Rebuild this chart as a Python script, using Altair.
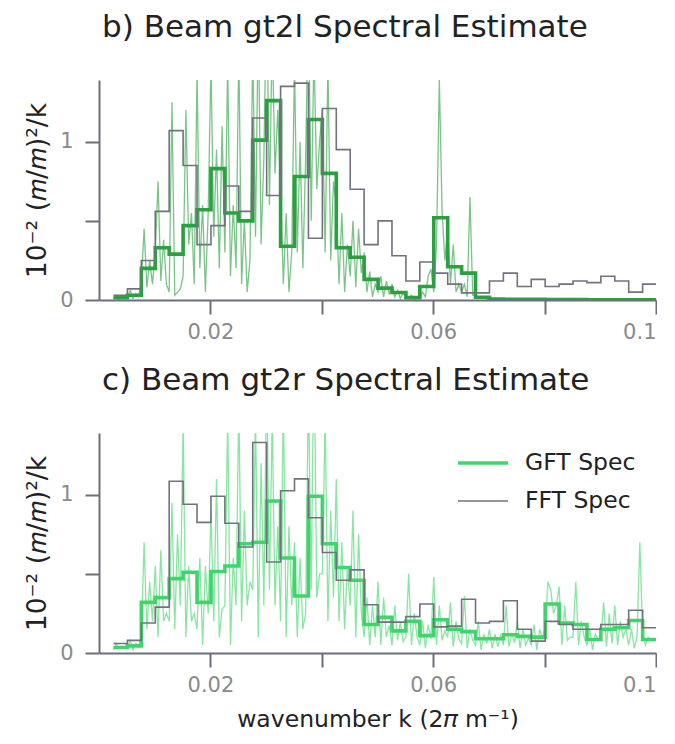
import altair as alt
import pandas as pd

# ---------------- data ----------------
# bin edges (wavenumber, 2pi m^-1) for the binned spectra
bin_edges = [0.0026, 0.0051, 0.0076, 0.0101, 0.0126, 0.0151, 0.0176, 0.0201, 0.0226, 0.0251,
             0.0276, 0.0301, 0.0326, 0.0351, 0.0376, 0.0401, 0.0426, 0.0451, 0.0476, 0.0501,
             0.0526, 0.0551, 0.0576, 0.0601, 0.0626, 0.0651, 0.0676, 0.0701, 0.0726, 0.0751,
             0.0776, 0.0801, 0.0826, 0.0851, 0.0876, 0.0901, 0.0926, 0.0951, 0.0976, 0.1001]

# raw wavenumber grid of the unbinned GFT spectrum
k_raw = [round(0.0026 + 0.0005 * i, 4) for i in range(195)]

# panel b (gt2l)
b_gft_bins = [0.015, 0.03, 0.20, 0.33, 0.29, 0.47, 0.57, 0.83, 0.55, 0.50,
              1.01, 1.26, 0.34, 0.78, 1.14, 0.80, 0.33, 0.27, 0.13, 0.075,
              0.047, 0.015, 0.085, 0.52, 0.21, 0.17, 0.017, 0.006, 0.005, 0.004,
              0.004, 0.003, 0.003, 0.003, 0.002, 0.002, 0.002, 0.002, 0.002]
b_fft_bins = [0.03, 0.07, 0.25, 0.56, 1.07, 0.85, 0.35, 0.47, 0.72, 0.56,
              1.15, 0.66, 1.35, 1.37, 0.39, 1.21, 0.95, 0.70, 0.35, 0.50,
              0.28, 0.12, 0.24, 0.17, 0.10, 0.045, 0.045, 0.12, 0.17, 0.085,
              0.13, 0.085, 0.10, 0.12, 0.11, 0.15, 0.12, 0.05, 0.10]
b_gft_raw = [0.01, 0.02, 0.005, 0.03, 0.01,
             0.02, 0.06, 0.01, 0.04, 0.02,
             0.12, 0.45, 0.08, 0.25, 0.10,
             0.30, 0.75, 0.12, 0.38, 0.10,
             0.05, 1.25, 0.03, 0.05, 0.07,
             0.15, 1.20, 0.35, 0.55, 0.10,
             1.45, 0.20, 0.60, 0.05, 0.55,
             1.50, 0.40, 0.95, 0.20, 1.10,
             0.30, 1.50, 0.15, 0.60, 0.20,
             1.60, 0.10, 0.50, 0.05, 0.25,
             1.60, 0.40, 1.80, 0.35, 0.90,
             2.00, 0.60, 1.70, 0.80, 1.20,
             0.70, 0.10, 0.55, 0.05, 0.30,
             1.50, 0.30, 1.00, 0.20, 0.90,
             1.90, 0.50, 1.60, 0.70, 1.00,
             1.20, 0.30, 1.50, 0.25, 0.75,
             0.60, 0.10, 0.55, 0.05, 0.35,
             0.15, 0.50, 0.08, 0.45, 0.17,
             0.30, 0.05, 0.18, 0.02, 0.10,
             0.05, 0.15, 0.02, 0.12, 0.035,
             0.10, 0.02, 0.06, 0.01, 0.045,
             0.02, 0.01, 0.03, 0.005, 0.01,
             0.01, 0.05, 0.02, 0.15, 0.195,
             0.05, 0.35, 1.40, 0.55, 0.25,
             0.45, 0.10, 0.35, 0.05, 0.10,
             0.05, 0.10, 0.02, 0.65, 0.03,
             0.03, 0.02, 0.01, 0.02, 0.005,
             0.008, 0.004, 0.006, 0.003, 0.005,
             0.004, 0.006, 0.003, 0.005, 0.004,
             0.005, 0.003, 0.004, 0.006, 0.003,
             0.004, 0.003, 0.005, 0.004, 0.003,
             0.003, 0.004, 0.002, 0.003, 0.004,
             0.003, 0.002, 0.004, 0.003, 0.002,
             0.003, 0.004, 0.002, 0.003, 0.002,
             0.002, 0.003, 0.002, 0.003, 0.002,
             0.002, 0.003, 0.002, 0.002, 0.003,
             0.002, 0.002, 0.003, 0.002, 0.002,
             0.003, 0.002, 0.002, 0.002, 0.003,
             0.002, 0.002, 0.003, 0.002, 0.002]

# panel c (gt2r)
c_gft_bins = [0.035, 0.045, 0.32, 0.35, 0.47, 0.51, 0.32, 0.515, 0.55, 0.69,
              0.70, 0.96, 0.60, 0.36, 0.99, 0.69, 0.54, 0.46, 0.18, 0.225,
              0.14, 0.20, 0.11, 0.21, 0.15, 0.135, 0.09, 0.09, 0.115, 0.105,
              0.10, 0.31, 0.19, 0.18, 0.085, 0.15, 0.16, 0.205, 0.085]
c_fft_bins = [0.06, 0.08, 0.19, 0.29, 1.085, 0.94, 0.825, 0.99, 0.82, 0.67,
              1.33, 0.575, 1.025, 1.10, 0.855, 0.635, 0.46, 0.525, 0.305, 0.195,
              0.195, 0.23, 0.31, 0.165, 0.17, 0.34, 0.19, 0.20, 0.33, 0.15,
              0.075, 0.20, 0.18, 0.15, 0.15, 0.18, 0.18, 0.27, 0.16]
c_gft_raw = [0.02, 0.06, 0.03, 0.04, 0.03,
             0.03, 0.08, 0.02, 0.06, 0.04,
             0.10, 0.70, 0.15, 0.45, 0.20,
             0.55, 0.10, 0.65, 0.20, 0.25,
             0.20, 0.95, 0.15, 0.75, 0.30,
             1.45, 0.10, 0.55, 0.20, 0.25,
             0.15, 0.60, 0.05, 0.55, 0.25,
             0.90, 0.20, 1.10, 0.10, 0.275,
             0.30, 1.50, 0.05, 0.60, 0.30,
             1.60, 0.20, 0.90, 0.30, 0.45,
             0.40, 1.50, 0.10, 1.20, 0.30,
             1.80, 0.40, 1.50, 0.30, 0.80,
             0.20, 1.60, 0.10, 0.80, 0.30,
             0.70, 0.10, 0.60, 0.15, 0.25,
             1.70, 0.40, 2.00, 0.35, 0.50,
             0.50, 1.50, 0.20, 0.90, 0.35,
             1.10, 0.20, 0.70, 0.15, 0.55,
             0.30, 0.90, 0.10, 0.75, 0.25,
             0.10, 0.35, 0.05, 0.30, 0.10,
             0.45, 0.05, 0.35, 0.10, 0.175,
             0.05, 0.30, 0.08, 0.20, 0.07,
             0.10, 0.50, 0.05, 0.25, 0.10,
             0.05, 0.20, 0.03, 0.18, 0.09,
             0.48, 0.05, 0.30, 0.08, 0.14,
             0.10, 0.32, 0.04, 0.20, 0.09,
             0.06, 0.36, 0.03, 0.15, 0.08,
             0.05, 0.20, 0.02, 0.12, 0.06,
             0.15, 0.03, 0.12, 0.04, 0.11,
             0.05, 0.30, 0.04, 0.12, 0.065,
             0.20, 0.03, 0.15, 0.05, 0.095,
             0.05, 0.18, 0.02, 0.15, 0.10,
             0.15, 0.45, 0.40, 0.25, 0.30,
             0.42, 0.05, 0.30, 0.08, 0.10,
             0.10, 0.45, 0.05, 0.20, 0.10,
             0.05, 0.15, 0.02, 0.12, 0.085,
             0.08, 0.32, 0.04, 0.25, 0.06,
             0.30, 0.05, 0.20, 0.10, 0.15,
             0.05, 0.15, 0.03, 0.10, 0.70,
             0.12, 0.05, 0.10, 0.08, 0.075]

series_names = ["GFT Spec", "FFT Spec"]

# ---------------- styling ----------------
GREEN_B = "#2aa040"
GREEN_C = "#40d56b"
GRAY = "#72727f"
FONT = "DejaVu Sans"

PW, PH = 557, 220
YDOM = [0, 1.39]


def step_frame(gft, fft):
    rows = []
    for name, vals in (("GFT Spec", gft), ("FFT Spec", fft)):
        vv = list(vals) + [vals[-1]]
        for k, v in zip(bin_edges, vv):
            rows.append({"k": k, "P": v, "series": name})
    return pd.DataFrame(rows)


def make_panel(raw, gft, fft, green, title, legend, xtitle):
    x_axis = alt.Axis(values=[0.02, 0.04, 0.06, 0.08, 0.1], format="~g",
                      labelExpr="(datum.value == 0.04 || datum.value == 0.08) ? '' : datum.label",
                      title=xtitle if xtitle else None, labelPadding=7, titlePadding=12,
                      titleFontSize=23.5)
    y_axis = alt.Axis(values=[0, 0.5, 1], format="~g",
                      labelExpr="datum.value == 0.5 ? '' : datum.label",
                      title="10⁻² (𝑚/𝑚)²/k", labelPadding=12, titlePadding=8,
                      titleFontSize=26.5)
    xs = alt.Scale(domain=[0, 0.1], nice=False, zero=False)
    ys = alt.Scale(domain=YDOM, nice=False)

    raw_df = pd.DataFrame({"k": k_raw, "P": raw})
    raw_line = alt.Chart(raw_df).mark_line(clip=True, strokeWidth=1.3, opacity=0.62,
                                           color=green).encode(
        x=alt.X("k:Q", scale=xs, axis=x_axis),
        y=alt.Y("P:Q", scale=ys, axis=y_axis),
    )

    if legend:
        leg = alt.Legend(title=None, orient="none", legendX=357, legendY=3,
                         symbolType="stroke", symbolSize=2500, labelFontSize=23.5,
                         labelFont=FONT, labelColor="#222222", rowPadding=-23,
                         labelOffset=15)
    else:
        leg = None

    steps = alt.Chart(step_frame(gft, fft)).mark_line(
        clip=True, interpolate="step-after").encode(
        x=alt.X("k:Q", scale=xs, axis=x_axis),
        y=alt.Y("P:Q", scale=ys, axis=y_axis),
        color=alt.Color("series:N", scale=alt.Scale(domain=series_names, range=[green, GRAY]),
                        legend=leg),
        strokeWidth=alt.StrokeWidth("series:N",
                                    scale=alt.Scale(domain=series_names, range=[3.6, 1.6]),
                                    legend=leg),
    )

    return alt.layer(raw_line, steps).properties(
        width=PW, height=PH,
        title=alt.TitleParams(title, anchor="start", frame="group", fontSize=31, font=FONT,
                              fontWeight="normal", color="#222222", dx=3, offset=36),
    )


panel_b = make_panel(b_gft_raw, b_gft_bins, b_fft_bins, GREEN_B,
                     "b) Beam gt2l Spectral Estimate", False, None)
panel_c = make_panel(c_gft_raw, c_gft_bins, c_fft_bins, GREEN_C,
                     "c) Beam gt2r Spectral Estimate", True, "wavenumber k (2𝜋 m⁻¹)")

chart = alt.vconcat(panel_b, panel_c, spacing=23).resolve_scale(
    color="independent", strokeWidth="independent"
).properties(
    padding={"left": 16, "right": 0, "top": 4, "bottom": 2},
    background="white",
).configure_view(stroke=None).configure_axis(
    grid=False, domainColor="#6d6d7b", domainWidth=2, tickColor="#6d6d7b", tickWidth=2,
    tickSize=14, labelColor="#8a8a8a", labelFont=FONT, labelFontSize=21,
    titleFont=FONT, titleFontWeight="normal", titleColor="#222222",
).configure_legend(
    labelFontSize=23.5, labelFont=FONT, labelColor="#222222",
)

chart.save("out.html", embed_options={"renderer": "svg", "actions": False})
